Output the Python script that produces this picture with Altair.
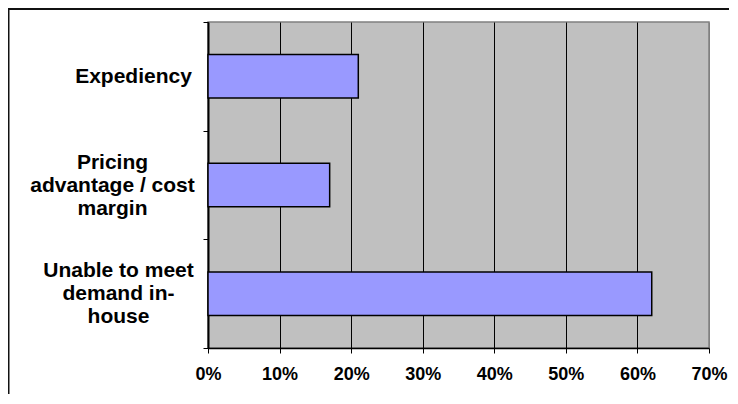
import altair as alt
import pandas as pd

categories = ["Expediency", "Pricing advantage / cost margin", "Unable to meet demand in-house"]
values = [0.21, 0.17, 0.62]
x_ticks = [0.0, 0.1, 0.2, 0.3, 0.4, 0.5, 0.6, 0.7]

df = pd.DataFrame({"reason": categories, "share": values})

FONT = "Liberation Sans"

label_expr = (
    "datum.label == 'Pricing advantage / cost margin' ? ['Pricing', 'advantage / cost', 'margin'] : "
    "datum.label == 'Unable to meet demand in-house' ? ['Unable to meet', 'demand in-', 'house'] : datum.label"
)

bars = alt.Chart(df).mark_bar(
    fill="#9999FF", stroke="#000000", strokeWidth=1.5, height=alt.RelativeBandSize(0.4)
).encode(
    x=alt.X(
        "share:Q",
        scale=alt.Scale(domain=[0, 0.7], nice=False),
        axis=alt.Axis(
            values=x_ticks,
            format=".0%",
            title=None,
            grid=True,
            gridColor={"condition": {"test": "datum.value >= 0.69", "value": "#808080"}, "value": "#000000"},
            gridWidth=1,
            domainColor="#000000",
            domainWidth=1.5,
            tickColor="#000000",
            tickSize=5,
            labelFont=FONT,
            labelFontSize=18,
            labelFontWeight="bold",
            labelColor="#000000",
            labelPadding=12,
            labelFlush=False,
            labelOverlap=False,
        ),
    ),
    y=alt.Y(
        "reason:N",
        sort=categories,
        scale=alt.Scale(paddingInner=0, paddingOuter=0),
        axis=alt.Axis(
            title=None,
            grid=False,
            tickBand="extent",
            domainColor="#000000",
            domainWidth=2,
            tickColor="#000000",
            tickSize=5,
            labelFont=FONT,
            labelFontSize=21,
            labelFontWeight="bold",
            labelColor="#000000",
            labelAlign="center",
            labelBaseline="middle",
            labelLineHeight=23,
            labelLimit=300,
            labelExpr=label_expr,
            labelOffset={
                "condition": {"test": "datum.value != 'Expediency'", "value": -23},
                "value": 0,
            },
            labelPadding={
                "condition": [
                    {"test": "datum.value == 'Expediency'", "value": 70},
                    {"test": "datum.value == 'Pricing advantage / cost margin'", "value": 91},
                ],
                "value": 85,
            },
        ),
    ),
)

border = alt.Chart(alt.Data(values=[{}]))
left_border = border.mark_rule(color="#111111", strokeWidth=2).encode(
    x=alt.value(-199.5), y=alt.value(-13), y2=alt.value(420)
)
top_border = border.mark_rule(color="#111111", strokeWidth=2).encode(
    x=alt.value(-200), x2=alt.value(560), y=alt.value(-13)
)

chart = alt.layer(bars, left_border, top_border).properties(
    width=501,
    height=326,
    autosize=alt.AutoSizeParams(type="none"),
    padding={"left": 200, "top": 14, "right": 20, "bottom": 46},
    background="white",
).configure_view(
    fill="#C0C0C0", stroke="#808080", strokeWidth=1.5
)

chart.save("out.html", embed_options={"renderer": "svg", "actions": False})
